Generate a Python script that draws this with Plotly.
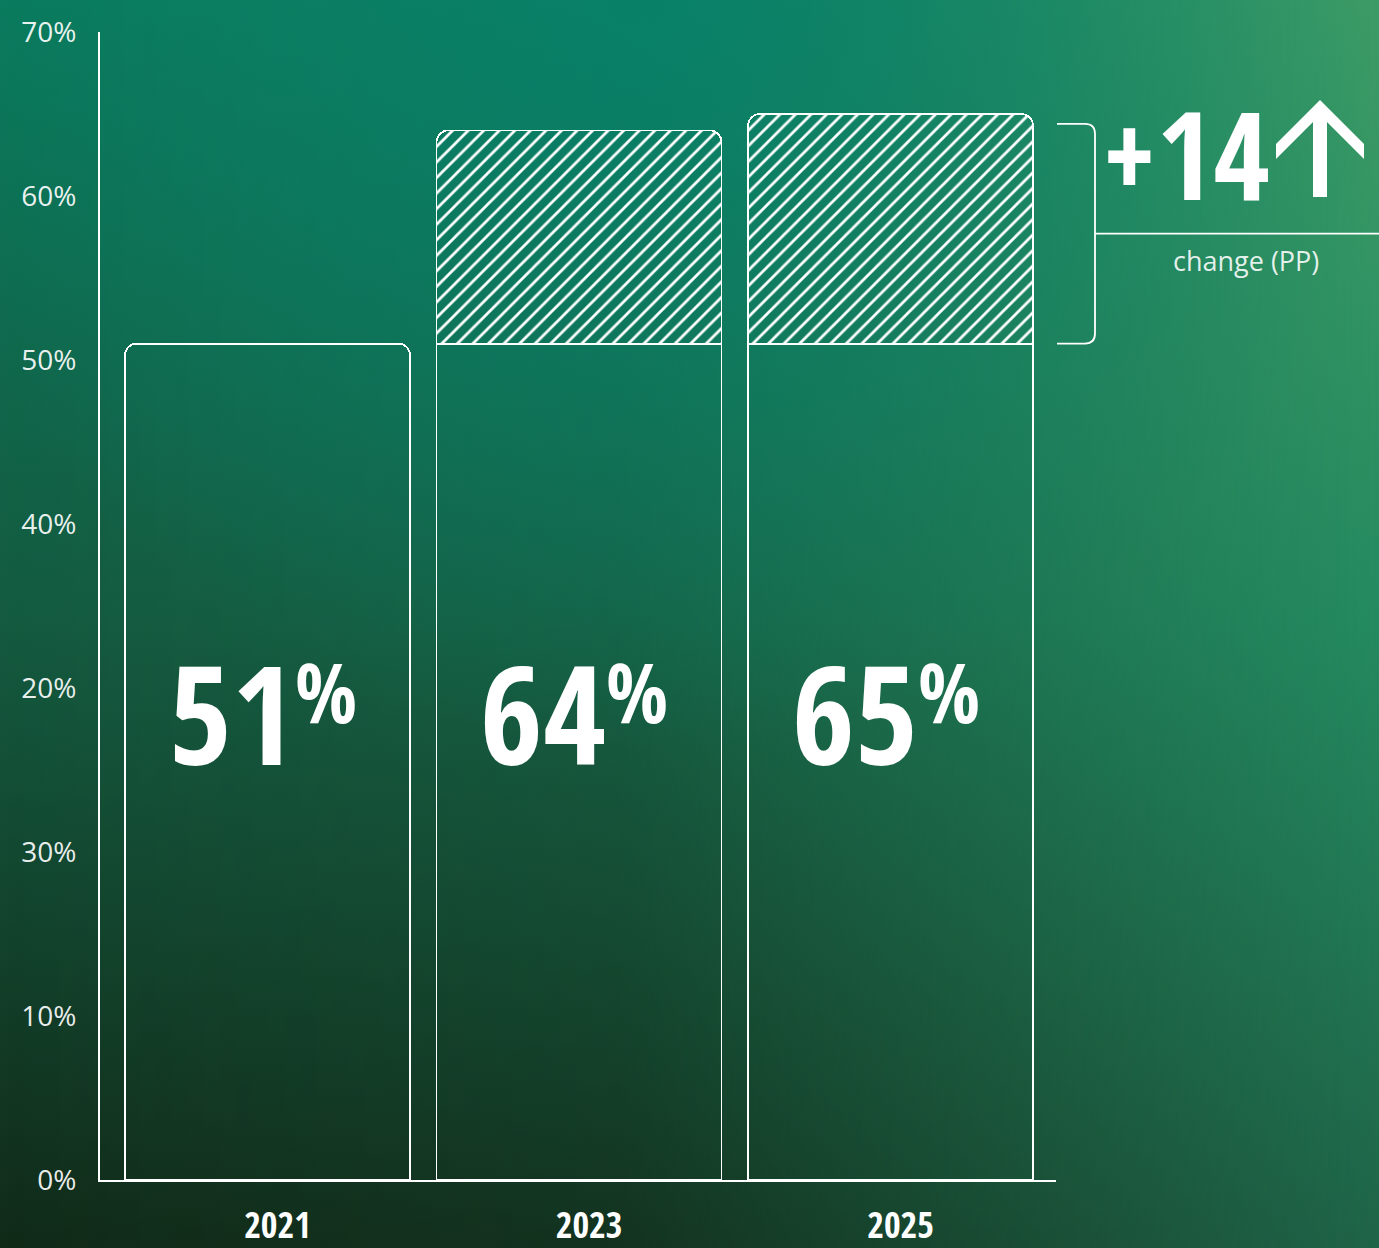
import base64
import plotly.graph_objects as go

# ---------------- data ----------------
years = ["2021", "2023", "2025"]
values = [51, 64, 65]               # share, %
tick_vals = [0, 10, 20, 30, 40, 50, 60, 70]
tick_text = ["0%", "10%", "30%", "20%", "40%", "50%", "60%", "70%"]
change_label = "change (PP)"

# ---------------- layout geometry ----------------
W, H = 1379, 1248
ML, MR, MT, MB = 100, 323, 32, 68
PW, PH = W - ML - MR, H - MT - MB


def pxx(px):
    return (px - ML) / PW


def pxy(py):
    return (H - MB - py) / PH


baseline = values[0]
base_part = [min(v, baseline) for v in values]
gain_part = [v - baseline if v > baseline else None for v in values]
xs = list(range(len(years)))

# ---------------- background gradient (svg) ----------------
svg = f"""<svg xmlns='http://www.w3.org/2000/svg' width='{W}' height='{H}' viewBox='0 0 {W} {H}' preserveAspectRatio='none'>
<defs>
<linearGradient id='l' x1='0' y1='0' x2='0' y2='1'>
<stop offset='0' stop-color='#0b7a5c'/><stop offset='0.5' stop-color='#145a40'/><stop offset='1' stop-color='#112a18'/>
</linearGradient>
<linearGradient id='r' x1='0' y1='0' x2='0' y2='1'>
<stop offset='0' stop-color='#3e9c66'/><stop offset='0.5' stop-color='#248a60'/><stop offset='1' stop-color='#1f6448'/>
</linearGradient>
<linearGradient id='m' x1='0' y1='0' x2='1' y2='0'>
<stop offset='0' stop-color='#fff' stop-opacity='0'/><stop offset='0.45' stop-color='#fff' stop-opacity='0.15'/><stop offset='1' stop-color='#fff' stop-opacity='1'/>
</linearGradient>
<mask id='mk'><rect width='{W}' height='{H}' fill='url(#m)'/></mask>
<radialGradient id='t' cx='650' cy='0' r='750' gradientUnits='userSpaceOnUse'>
<stop offset='0' stop-color='#06806a' stop-opacity='0.85'/><stop offset='1' stop-color='#06806a' stop-opacity='0'/>
</radialGradient>
</defs>
<rect width='{W}' height='{H}' fill='url(#l)'/>
<rect width='{W}' height='{H}' fill='url(#r)' mask='url(#mk)'/>
<rect width='{W}' height='{H}' fill='url(#t)'/>
</svg>"""
bg_src = "data:image/svg+xml;base64," + base64.b64encode(svg.encode()).decode()

NARROW = ("Noto Sans ExtraCondensed, Noto Sans Condensed, Open Sans Condensed, "
          "Liberation Sans Narrow, DejaVu Sans Condensed, sans-serif")
LIGHT = "Open Sans, Noto Sans, sans-serif"
WHITE = "#ffffff"
LINE_W = 1.8

fig = go.Figure()
fig.add_trace(go.Bar(
    x=xs, y=base_part,
    marker=dict(color="rgba(0,0,0,0)", line=dict(color=WHITE, width=LINE_W)),
    hoverinfo="skip", showlegend=False,
))
fig.add_trace(go.Bar(
    x=xs, y=gain_part,
    marker=dict(color="rgba(0,0,0,0)", line=dict(color=WHITE, width=LINE_W),
                pattern=dict(shape="/", fgcolor=WHITE, bgcolor="rgba(0,0,0,0)",
                             size=11, solidity=0.25)),
    hoverinfo="skip", showlegend=False,
))

annotations = []
LABEL_Y = 28.35
for i, v in enumerate(values):
    annotations.append(dict(x=i, y=LABEL_Y, xref="x", yref="y", text=str(v),
                            showarrow=False, xanchor="right", yanchor="middle", xshift=29,
                            yshift=3,
                            font=dict(family=NARROW, size=136, color=WHITE, weight="bold")))
    annotations.append(dict(x=i, y=LABEL_Y, xref="x", yref="y", text="%",
                            showarrow=False, xanchor="left", yanchor="middle", xshift=25,
                            yshift=24,
                            font=dict(family=NARROW, size=82, color=WHITE, weight="bold")))

# change annotation
delta = values[-1] - values[0]
annotations.append(dict(x=pxx(1272), y=pxy(238), xref="paper", yref="paper",
                        text=f"+{delta}", showarrow=False, xanchor="right", yanchor="bottom",
                        font=dict(family=NARROW, size=122, color=WHITE, weight="bold")))
annotations.append(dict(x=pxx(1246), y=pxy(260), xref="paper", yref="paper",
                        text=change_label, showarrow=False, xanchor="center", yanchor="middle",
                        font=dict(family=LIGHT, size=27, color="rgba(255,255,255,0.88)")))

# bracket spanning the change
top = values[-1] - 0.6
r_y = 10 / (PH / 70)
bx0, bx1, bx2 = pxx(1057), pxx(1085), pxx(1095)
bracket = (f"M {bx0},{baseline} L {bx1},{baseline} Q {bx2},{baseline} {bx2},{baseline + r_y} "
           f"L {bx2},{top - r_y} Q {bx2},{top} {bx1},{top} L {bx0},{top}")
mid = (baseline + top) / 2
shapes = [
    dict(type="path", path=bracket, xref="paper", yref="y",
         line=dict(color=WHITE, width=LINE_W), layer="above"),
    dict(type="line", x0=bx2, x1=pxx(W + 5), y0=mid, y1=mid, xref="paper", yref="y",
         line=dict(color=WHITE, width=LINE_W), layer="above"),
]
arrow_pts = [(1320, 100), (1364, 144), (1364, 159), (1327, 122), (1327, 197),
             (1313, 197), (1313, 122), (1276, 159), (1276, 144)]
arrow_path = "M " + " L ".join(f"{pxx(a)},{pxy(b)}" for a, b in arrow_pts) + " Z"
shapes.append(dict(type="path", path=arrow_path, xref="paper", yref="paper",
                   fillcolor=WHITE, line=dict(width=0), layer="above"))

fig.update_layout(
    template="none",
    width=W, height=H,
    margin=dict(l=ML, r=MR, t=MT, b=MB, pad=0),
    paper_bgcolor="#145a40", plot_bgcolor="rgba(0,0,0,0)",
    barmode="stack", bargap=0.085, barcornerradius=12,
    showlegend=False,
    images=[dict(source=bg_src, xref="paper", yref="paper", x=pxx(0), y=pxy(0),
                 sizex=W / PW, sizey=H / PH, xanchor="left", yanchor="top",
                 sizing="stretch", layer="below")],
    annotations=annotations,
    shapes=shapes,
    xaxis=dict(range=[-0.5377, 2.531], tickvals=xs, ticktext=years, showgrid=False,
               zeroline=False, showline=True, linecolor=WHITE, linewidth=LINE_W,
               ticks="", ticklabelstandoff=13, ticklabelshift=10, automargin=False,
               tickfont=dict(family=NARROW, size=36, color=WHITE, weight="bold"),
               fixedrange=True),
    yaxis=dict(range=[0, 70], tickvals=tick_vals, ticktext=tick_text, showgrid=False,
               zeroline=False, showline=True, linecolor=WHITE, linewidth=LINE_W,
               ticks="", ticklabelstandoff=16, automargin=False,
               tickfont=dict(family=LIGHT, size=28, color="rgba(255,255,255,0.92)"),
               fixedrange=True),
)

fig.write_html("out.html")
